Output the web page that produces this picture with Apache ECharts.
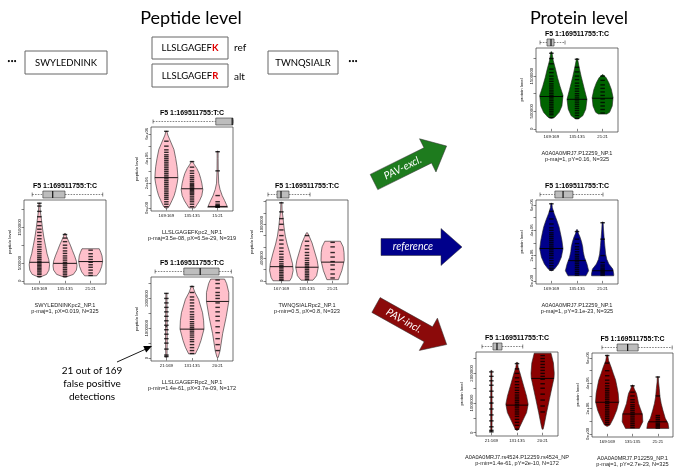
<!DOCTYPE html>
<html>
<head>
<meta charset="utf-8">
<script src="https://cdn.jsdelivr.net/npm/echarts@6/dist/echarts.min.js"></script>
<style>
html, body { margin: 0; padding: 0; background: #fff; }
#chart { width: 674px; height: 469px; }
</style>
</head>
<body>
<div id="chart"></div>
<script>
const M = 1e6; // violin values are in millions

const variantTitle = 'F5 1:169511755:T:C';

// A: SWYLEDNINK peptide
const aCats = ['169:169', '135:135', '21:21'];
const aMedian = [0.52, 0.49, 0.54];
const aShapeY = [
  [0.10, 0.18, 0.3, 0.45, 0.6, 0.76, 1.0, 1.23, 1.45, 1.7, 1.95, 2.18],
  [0.1, 0.18, 0.3, 0.42, 0.55, 0.7, 0.85, 1.0, 1.15, 1.25, 1.33],
  [0.14, 0.25, 0.4, 0.55, 0.7, 0.8, 0.9]
];
const aShapeW = [
  [0.0, 0.6, 0.8, 0.85, 0.78, 0.64, 0.5, 0.37, 0.27, 0.18, 0.08, 0.0],
  [0, 0.7, 0.95, 1.0, 0.95, 0.8, 0.62, 0.45, 0.25, 0.12, 0],
  [0.5, 0.75, 0.92, 1.0, 0.95, 0.85, 0.72]
];
const aPoints = [
  [0.12, 0.18, 0.22, 0.27, 0.31, 0.35, 0.39, 0.43, 0.47, 0.51, 0.55, 0.6, 0.65, 0.7, 0.76, 0.82, 0.88, 0.95, 1.02, 1.1, 1.18, 1.27, 1.36, 1.45, 1.55, 1.66, 1.8, 1.95, 2.1, 2.18],
  [0.12, 0.17, 0.22, 0.27, 0.32, 0.37, 0.42, 0.47, 0.52, 0.58, 0.64, 0.7, 0.77, 0.84, 0.92, 1.0, 1.1, 1.2, 1.3],
  [0.15, 0.22, 0.3, 0.38, 0.45, 0.52, 0.6, 0.68, 0.76, 0.86]
];
const aTicks = [0, 0.5, 1, 1.5, 2];
const aLabelAt = [0, 0.5, 1.5];
const aLabels = ['0', '500000', '1500000'];
const aStrip = [10, 23, 35, 50, 96];
const aSub = ['SWYLEDNINKpc2_NP.1', 'p-maj=1, pX=0.019, N=325'];

// B: LLSLGAGEFK peptide
const bCats = ['169:169', '135:135', '15:21'];
const bMedian = [2.45, 1.55, 0.12];
const bShapeY = [
  [0.0, 0.1, 0.58, 1.0, 1.41, 2.0, 2.4, 2.9, 3.34, 4.0, 4.73, 5.42, 5.9, 6.2],
  [0.0, 0.3, 0.58, 1.0, 1.47, 2.0, 2.4, 2.79, 3.2, 3.5, 3.76],
  [0.05, 0.3, 0.6, 1.0, 1.5, 2.0, 3.0, 4.0, 4.6]
];
const bShapeW = [
  [0.1, 0.22, 0.46, 0.65, 0.77, 0.9, 0.96, 0.93, 0.89, 0.78, 0.63, 0.33, 0.12, 0.0],
  [0.25, 0.45, 0.63, 0.82, 0.9, 0.82, 0.72, 0.6, 0.4, 0.2, 0],
  [0.83, 0.72, 0.58, 0.38, 0.2, 0.09, 0.05, 0.04, 0.0]
];
const bPoints = [
  [0.1, 0.3, 0.5, 0.7, 0.85, 1.0, 1.15, 1.3, 1.45, 1.6, 1.75, 1.9, 2.05, 2.2, 2.35, 2.5, 2.65, 2.8, 2.95, 3.1, 3.25, 3.4, 3.55, 3.7, 3.85, 4.0, 4.15, 4.3, 4.5, 4.7, 5.0, 5.4, 6.2],
  [0.1, 0.3, 0.5, 0.65, 0.8, 0.95, 1.1, 1.2, 1.3, 1.4, 1.5, 1.6, 1.7, 1.8, 1.9, 2.0, 2.15, 2.3, 2.45, 2.6, 2.8, 3.0, 3.3, 3.75],
  [0.05, 0.1, 0.15, 0.2, 0.3, 0.5, 1.0, 3.0, 4.55]
];
const bTicks = [0, 1, 2, 3, 4, 5, 6];
const bLabelAt = [0, 2, 4, 6];
const bLabels = ['0e+00', '2e+06', '4e+06', '6e+06'];
const bStrip = [2.5, 79, 99, 100, 100];
const bSub = ['LLSLGAGEFKpc2_NP.1', 'p-maj=3.5e-08, pX=6.5e-29, N=319'];

// C: LLSLGAGEFR peptide
const cCats = ['21:169', '131:135', '20:21'];
const cMedian = [1.05, 0.97, 1.9];
const cShapeY = [
  [0.02, 0.5, 1.0, 1.5, 2.17],
  [0.14, 0.36, 0.59, 0.97, 1.25, 1.52, 1.97, 2.2, 2.42],
  [0.02, 0.24, 0.82, 1.39, 1.9, 2.2, 2.5, 2.65]
];
const cShapeW = [
  [0.05, 0.07, 0.07, 0.06, 0.04],
  [0.28, 0.55, 0.75, 1.0, 0.97, 0.88, 0.55, 0.25, 0.0],
  [0.05, 0.2, 0.42, 0.72, 0.93, 0.93, 0.75, 0.58]
];
const cPoints = [
  [0.05, 0.1, 0.3, 0.5, 0.65, 0.8, 0.95, 1.1, 1.25, 1.4, 1.55, 1.7, 1.85, 2.0, 2.17],
  [0.15, 0.25, 0.35, 0.45, 0.55, 0.62, 0.7, 0.77, 0.84, 0.9, 0.96, 1.02, 1.08, 1.15, 1.22, 1.3, 1.38, 1.46, 1.55, 1.65, 1.75, 1.85, 1.95, 2.05, 2.2, 2.4],
  [0.25, 0.45, 0.65, 0.85, 1.05, 1.25, 1.4, 1.55, 1.7, 1.85, 2.0, 2.1, 2.2, 2.35, 2.5, 2.62]
];
const cTicks = [0, 0.5, 1, 1.5, 2, 2.5];
const cLabelAt = [0, 1, 2];
const cLabels = ['0', '1000000', '2000000'];
const cStrip = [5, 40, 60, 83, 98];
const cSub = ['LLSLGAGEFRpc2_NP.1', 'p-min=1.4e-61, pX=3.7e-09, N=172'];

// D: TWNQSIALR peptide
const dCats = ['167:169', '135:135', '21:21'];
const dMedian = [0.25, 0.24, 0.33];
const dShapeY = [
  [0.0, 0.06, 0.18, 0.3, 0.49, 0.65, 0.79, 0.95, 1.09, 1.25, 1.39],
  [0.01, 0.09, 0.24, 0.36, 0.49, 0.67, 0.78, 0.85],
  [0.02, 0.18, 0.36, 0.5, 0.6, 0.7]
];
const dShapeW = [
  [0.7, 0.86, 0.98, 0.93, 0.7, 0.48, 0.33, 0.22, 0.15, 0.06, 0.0],
  [0.5, 0.8, 0.94, 0.85, 0.67, 0.42, 0.2, 0.0],
  [0.48, 0.77, 0.97, 0.95, 0.88, 0.65]
];
const dPoints = [
  [0.01, 0.03, 0.06, 0.09, 0.12, 0.15, 0.18, 0.21, 0.24, 0.27, 0.3, 0.34, 0.38, 0.42, 0.47, 0.52, 0.58, 0.65, 0.72, 0.8, 0.9, 1.0, 1.1, 1.22, 1.38],
  [0.02, 0.05, 0.08, 0.11, 0.14, 0.17, 0.2, 0.23, 0.26, 0.29, 0.32, 0.36, 0.4, 0.45, 0.5, 0.56, 0.62, 0.7, 0.8],
  [0.05, 0.12, 0.2, 0.28, 0.34, 0.42, 0.5, 0.6, 0.68]
];
const dTicks = [0, 0.2, 0.4, 0.6, 0.8, 1.0, 1.2, 1.4];
const dLabelAt = [0, 0.4, 1.0];
const dLabels = ['0', '400000', '1000000'];
const dStrip = [2.4, 13.4, 18.3, 28, 53.7];
const dSub = ['TWNQSIALRpc2_NP.1', 'p-min=0.5, pX=0.8, N=323'];

// E: protein, PAV-excl.
const eCats = ['169:169', '135:135', '21:21'];
const eMedian = [0.92, 0.84, 0.87];
const eShapeY = [
  [0.3, 0.33, 0.47, 0.65, 0.95, 1.21, 1.45, 1.68, 1.95, 2.19],
  [0.28, 0.37, 0.56, 0.84, 1.12, 1.49, 1.75, 2.0],
  [0.42, 0.47, 0.65, 0.89, 1.12, 1.31, 1.45, 1.54]
];
const eShapeW = [
  [0.0, 0.28, 0.65, 0.88, 0.97, 0.72, 0.52, 0.36, 0.15, 0.0],
  [0.1, 0.48, 0.73, 0.83, 0.62, 0.35, 0.18, 0.0],
  [0.35, 0.58, 0.8, 0.87, 0.73, 0.52, 0.3, 0.0]
];
const ePoints = [
  [0.32, 0.4, 0.45, 0.5, 0.55, 0.6, 0.65, 0.7, 0.75, 0.8, 0.85, 0.9, 0.95, 1.0, 1.05, 1.1, 1.16, 1.22, 1.28, 1.35, 1.42, 1.5, 1.6, 1.7, 1.85, 2.0, 2.15],
  [0.3, 0.38, 0.45, 0.52, 0.58, 0.64, 0.7, 0.76, 0.82, 0.88, 0.94, 1.0, 1.07, 1.14, 1.22, 1.3, 1.4, 1.5, 1.62, 1.75, 1.98],
  [0.45, 0.55, 0.65, 0.75, 0.85, 0.95, 1.05, 1.15, 1.25, 1.38, 1.5]
];
const eTicks = [0, 0.5, 1, 1.5, 2];
const eLabelAt = [0, 0.5, 1.5];
const eLabels = ['0', '500000', '1500000'];
const eStrip = [4.9, 13.4, 18.3, 22, 35.4];
const eSub = ['A0A0A0MRJ7.P12259_NP.1', 'p-maj=1, pY=0.16, N=325'];

// F: protein, reference
const fCats = ['169:169', '135:135', '21:21'];
const fMedian = [2.56, 1.6, 0.8];
const fShapeY = [
  [0.8, 0.95, 1.33, 1.87, 2.54, 3.2, 3.8, 4.27, 4.8, 5.34, 5.8, 6.14],
  [0.4, 0.8, 1.33, 1.87, 2.3, 2.67, 3.1, 3.47, 3.8, 4.05],
  [0.4, 0.53, 0.93, 1.33, 1.7, 2.13, 2.8, 3.47, 4.1, 4.66]
];
const fShapeW = [
  [0.0, 0.28, 0.58, 0.83, 0.97, 0.88, 0.75, 0.64, 0.45, 0.23, 0.08, 0.0],
  [0.75, 0.97, 0.83, 0.62, 0.52, 0.48, 0.38, 0.25, 0.1, 0.0],
  [0.92, 0.93, 0.85, 0.52, 0.35, 0.25, 0.18, 0.12, 0.07, 0.0]
];
const fPoints = [
  [0.85, 1.0, 1.2, 1.4, 1.6, 1.8, 2.0, 2.15, 2.3, 2.45, 2.6, 2.75, 2.9, 3.05, 3.2, 3.35, 3.5, 3.65, 3.8, 4.0, 4.2, 4.5, 4.9, 5.5, 6.1],
  [0.45, 0.6, 0.75, 0.9, 1.05, 1.2, 1.35, 1.5, 1.65, 1.8, 1.95, 2.1, 2.3, 2.5, 2.7, 2.95, 3.3, 3.9],
  [0.45, 0.55, 0.65, 0.75, 0.85, 0.95, 1.1, 1.25, 1.45, 2.0, 3.3, 4.6]
];
const fTicks = [0, 1, 2, 3, 4, 5, 6];
const fLabelAt = [0, 2, 4, 6];
const fLabels = ['0e+00', '2e+06', '4e+06', '6e+06'];
const fStrip = [4.9, 23, 33, 45, 81.7];
const fSub = ['A0A0A0MRJ7.P12259_NP.1', 'p-maj=1, pY=3.1e-23, N=325'];

// G: protein, PAV-incl. (variant peptide)
const gCats = ['21:169', '131:135', '20:21'];
const gMedian = [1.0, 0.93, 1.83];
const gShapeY = [
  [0.03, 0.5, 1.0, 1.5, 2.1],
  [0.08, 0.12, 0.4, 0.68, 0.96, 1.23, 1.57, 2.01, 2.2, 2.37],
  [0.12, 0.23, 0.68, 1.12, 1.57, 1.85, 2.0, 2.35, 2.68]
];
const gShapeW = [
  [0.05, 0.06, 0.06, 0.05, 0.04],
  [0.0, 0.14, 0.47, 0.8, 0.93, 0.8, 0.56, 0.25, 0.1, 0.0],
  [0.0, 0.11, 0.33, 0.56, 0.8, 0.95, 0.97, 0.9, 0.7]
];
const gPoints = [
  [0.03, 0.08, 0.2, 0.4, 0.6, 0.8, 1.0, 1.2, 1.4, 1.6, 1.75, 1.9, 2.05],
  [0.12, 0.25, 0.35, 0.45, 0.55, 0.63, 0.7, 0.77, 0.84, 0.9, 0.96, 1.02, 1.08, 1.14, 1.2, 1.27, 1.35, 1.43, 1.52, 1.62, 1.72, 1.85, 2.0, 2.15, 2.33],
  [0.7, 0.9, 1.1, 1.3, 1.5, 1.65, 1.8, 1.9, 2.0, 2.1, 2.2, 2.3, 2.4, 2.5, 2.6]
];
const gTicks = [0, 0.5, 1, 1.5, 2, 2.5];
const gLabelAt = [0, 1, 2];
const gLabels = ['0', '1000000', '2000000'];
const gStrip = [7.3, 20.7, 25.6, 31.7, 57];
const gSub = ['A0A0A0MRJ7.rs4524.P12259.rs4524_NP', 'p-min=1.4e-61, pY=2e-10, N=172'];

// H: protein, PAV-incl. (reference peptide)
const hCats = ['169:169', '135:135', '21:21'];
const hMedian = [2.5, 1.57, 0.95];
const hShapeY = [
  [0.6, 0.7, 1.23, 1.88, 2.54, 3.2, 3.8, 4.26, 4.8, 5.31, 5.8, 6.24],
  [0.43, 0.96, 1.54, 2.0, 2.41, 2.8, 3.2, 3.55, 3.86],
  [0.43, 0.83, 1.23, 1.88, 2.4, 2.94, 3.6, 4.1, 4.52]
];
const hShapeW = [
  [0.0, 0.23, 0.52, 0.8, 0.97, 0.92, 0.8, 0.7, 0.5, 0.32, 0.12, 0.0],
  [0.58, 0.86, 0.83, 0.65, 0.5, 0.42, 0.33, 0.15, 0.0],
  [0.92, 0.85, 0.62, 0.42, 0.28, 0.18, 0.12, 0.06, 0.0]
];
const hPoints = [
  [0.75, 0.9, 1.05, 1.2, 1.35, 1.5, 1.65, 1.8, 1.95, 2.1, 2.25, 2.4, 2.55, 2.7, 2.85, 3.0, 3.15, 3.3, 3.45, 3.6, 3.8, 4.0, 4.25, 4.6, 5.0, 5.6, 6.2],
  [0.5, 0.65, 0.8, 0.95, 1.1, 1.25, 1.4, 1.55, 1.7, 1.85, 2.0, 2.15, 2.3, 2.5, 2.7, 3.0, 3.3, 3.8],
  [0.45, 0.55, 0.65, 0.75, 0.85, 1.0, 1.15, 1.3, 1.45, 3.0, 4.5]
];
const hTicks = [0, 1, 2, 3, 4, 5, 6];
const hLabelAt = [0, 2, 4, 6];
const hLabels = ['0e+00', '2e+06', '4e+06', '6e+06'];
const hStrip = [12.3, 31, 44, 57, 99];
const hSub = ['A0A0A0MRJ7.P12259_NP.1', 'p-maj=1, pY=2.7e-23, N=325'];

// layout and look of each small panel
const panels = [
  { cats: aCats, med: aMedian, sy: aShapeY, sw: aShapeW, pts: aPoints, ticks: aTicks, labAt: aLabelAt, lab: aLabels, strip: aStrip, sub: aSub,
    left: 24, top: 200, w: 82, yMin: -0.09, yMax: 2.27, fill: '#ffc0cb', yName: 'peptide level' },
  { cats: bCats, med: bMedian, sy: bShapeY, sw: bShapeW, pts: bPoints, ticks: bTicks, labAt: bLabelAt, lab: bLabels, strip: bStrip, sub: bSub,
    left: 151, top: 127, w: 82, yMin: -0.25, yMax: 6.55, fill: '#ffc0cb', yName: 'peptide level' },
  { cats: cCats, med: cMedian, sy: cShapeY, sw: cShapeW, pts: cPoints, ticks: cTicks, labAt: cLabelAt, lab: cLabels, strip: cStrip, sub: cSub,
    left: 151, top: 277, w: 82, yMin: -0.1, yMax: 2.72, fill: '#ffc0cb', yName: 'peptide level' },
  { cats: dCats, med: dMedian, sy: dShapeY, sw: dShapeW, pts: dPoints, ticks: dTicks, labAt: dLabelAt, lab: dLabels, strip: dStrip, sub: dSub,
    left: 266, top: 200, w: 82, yMin: -0.057, yMax: 1.43, fill: '#ffc0cb', yName: 'peptide level' },
  { cats: eCats, med: eMedian, sy: eShapeY, sw: eShapeW, pts: ePoints, ticks: eTicks, labAt: eLabelAt, lab: eLabels, strip: eStrip, sub: eSub,
    left: 536, top: 48, w: 82, yMin: -0.09, yMax: 2.3, fill: '#006400', yName: 'protein level' },
  { cats: fCats, med: fMedian, sy: fShapeY, sw: fShapeW, pts: fPoints, ticks: fTicks, labAt: fLabelAt, lab: fLabels, strip: fStrip, sub: fSub,
    left: 536, top: 200, w: 82, yMin: -0.25, yMax: 6.4, fill: '#00008b', yName: 'protein level' },
  { cats: gCats, med: gMedian, sy: gShapeY, sw: gShapeW, pts: gPoints, ticks: gTicks, labAt: gLabelAt, lab: gLabels, strip: gStrip, sub: gSub,
    left: 476, top: 352, w: 82, yMin: -0.11, yMax: 2.72, fill: '#8b0000', yName: 'protein level' },
  { cats: hCats, med: hMedian, sy: hShapeY, sw: hShapeW, pts: hPoints, ticks: hTicks, labAt: hLabelAt, lab: hLabels, strip: hStrip, sub: hSub,
    left: 592, top: 353, w: 81, yMin: -0.25, yMax: 6.4, fill: '#8b0000', yName: 'protein level' }
];

const HALF = 12;      // px for a relative width of 1
const PH = 84;        // panel height
const RFONT = 'Liberation Sans';
const BFONT = 'Lato';

function widthAt(ys, ws, y) {
  for (let j = 0; j < ys.length - 1; j++) {
    if (y >= ys[j] && y <= ys[j + 1]) {
      const t = (y - ys[j]) / (ys[j + 1] - ys[j]);
      return ws[j] + t * (ws[j + 1] - ws[j]);
    }
  }
  return 0;
}

const grids = [], xAxes = [], yAxes = [], series = [], graphics = [];

panels.forEach((p, i) => {
  const g = i * 2;
  grids.push({ left: p.left, top: p.top, width: p.w, height: PH, show: true,
    borderColor: '#333', borderWidth: 0.7, backgroundColor: 'rgba(0,0,0,0)' });
  grids.push({ left: p.left, top: p.top - 9, width: p.w, height: 7 });

  xAxes.push({
    gridIndex: g, type: 'value', min: 0.4, max: 3.6,
    splitLine: { show: false }, axisLine: { show: false },
    axisTick: { customValues: [1, 2, 3], length: 2.5, lineStyle: { color: '#333', width: 0.6 } },
    axisLabel: { customValues: [1, 2, 3], formatter: v => p.cats[Math.round(v) - 1],
      fontSize: 4.3, margin: 2.5, color: '#111', fontFamily: RFONT }
  });
  xAxes.push({ gridIndex: g + 1, type: 'value', min: 0, max: 100, show: false });

  yAxes.push({
    gridIndex: g, type: 'value', min: p.yMin * M, max: p.yMax * M,
    splitLine: { show: false }, axisLine: { show: false },
    name: p.yName, nameLocation: 'middle', nameGap: 12,
    nameTextStyle: { fontSize: 4.3, color: '#111', fontFamily: RFONT },
    axisTick: { customValues: p.ticks.map(v => v * M), length: 2.5, lineStyle: { color: '#333', width: 0.6 } },
    axisLabel: {
      customValues: p.labAt.map(v => v * M), rotate: 90, margin: 2.5,
      fontSize: 4.3, color: '#111', fontFamily: RFONT,
      formatter: v => {
        const k = p.labAt.findIndex(t => Math.abs(t * M - v) < 1);
        return k < 0 ? '' : p.lab[k];
      }
    }
  });
  yAxes.push({ gridIndex: g + 1, type: 'value', min: 0, max: 1, show: false });

  // violins with median line
  series.push({
    type: 'custom', xAxisIndex: g, yAxisIndex: g, silent: true,
    data: p.cats.map((c, k) => [k + 1, p.med[k] * M]),
    renderItem: (params, api) => {
      const k = params.dataIndex;
      const ys = p.sy[k], ws = p.sw[k];
      const lft = [], rgt = [];
      ys.forEach((y, j) => {
        const c = api.coord([k + 1, y * M]);
        const w = Math.max(ws[j] * HALF, 0.5);
        lft.push([c[0] - w, c[1]]);
        rgt.push([c[0] + w, c[1]]);
      });
      const mc = api.coord([k + 1, p.med[k] * M]);
      const mw = Math.max(widthAt(ys, ws, p.med[k]) * HALF, 0.8);
      return {
        type: 'group', children: [
          { type: 'polygon', shape: { points: lft.concat(rgt.reverse()) },
            style: { fill: p.fill, stroke: '#222', lineWidth: 0.6 } },
          { type: 'line', shape: { x1: mc[0] - mw, y1: mc[1], x2: mc[0] + mw, y2: mc[1] },
            style: { stroke: '#000', lineWidth: 0.9 } }
        ]
      };
    }
  });

  // individual values as short dashes
  const dots = [];
  p.pts.forEach((arr, k) => arr.forEach(v => dots.push([k + 1, v * M])));
  series.push({
    type: 'scatter', xAxisIndex: g, yAxisIndex: g, silent: true,
    symbol: 'rect', symbolSize: [4.5, 1.4], data: dots,
    itemStyle: { color: '#000' }
  });

  // horizontal boxplot strip above the panel
  series.push({
    type: 'custom', xAxisIndex: g + 1, yAxisIndex: g + 1, silent: true,
    data: [p.strip],
    renderItem: (params, api) => {
      const s = p.strip;
      const y = api.coord([0, 0.5])[1];
      const x = s.map(v => api.coord([v, 0.5])[0]);
      const ln = { stroke: '#333', lineWidth: 0.6 };
      return {
        type: 'group', children: [
          { type: 'line', shape: { x1: x[0], y1: y, x2: x[1], y2: y }, style: { ...ln, lineDash: [1.6, 1.2] } },
          { type: 'line', shape: { x1: x[3], y1: y, x2: x[4], y2: y }, style: { ...ln, lineDash: [1.6, 1.2] } },
          { type: 'line', shape: { x1: x[0], y1: y - 2, x2: x[0], y2: y + 2 }, style: ln },
          { type: 'line', shape: { x1: x[4], y1: y - 2, x2: x[4], y2: y + 2 }, style: ln },
          { type: 'rect', shape: { x: x[1], y: y - 3.5, width: Math.max(x[3] - x[1], 1), height: 7 },
            style: { fill: '#bdbdbd', stroke: '#333', lineWidth: 0.6 } },
          { type: 'line', shape: { x1: x[2], y1: y - 3.5, x2: x[2], y2: y + 3.5 }, style: { stroke: '#111', lineWidth: 1.2 } }
        ]
      };
    }
  });

  const cx = p.left + p.w / 2;
  graphics.push(
    { type: 'text', x: cx, y: p.top - 13.5, silent: true,
      style: { text: variantTitle, fontSize: 7, fontWeight: 'bold', fontFamily: RFONT, fill: '#000',
        textAlign: 'center', textVerticalAlign: 'middle' } },
    { type: 'text', x: cx, y: p.top + PH + 21.5, silent: true,
      style: { text: p.sub[0], fontSize: 5.6, fontFamily: RFONT, fill: '#222',
        textAlign: 'center', textVerticalAlign: 'middle' } },
    { type: 'text', x: cx, y: p.top + PH + 27.5, silent: true,
      style: { text: p.sub[1], fontSize: 5.6, fontFamily: RFONT, fill: '#222',
        textAlign: 'center', textVerticalAlign: 'middle' } }
  );
});

function label(x, y, text, size, extra) {
  return { type: 'text', x, y, silent: true,
    style: Object.assign({ text, fontSize: size, fontFamily: BFONT, fill: '#000',
      textAlign: 'center', textVerticalAlign: 'middle' }, extra || {}) };
}
function box(x, y, w, h) {
  return { type: 'rect', silent: true, shape: { x, y, width: w, height: h },
    style: { fill: '#fff', stroke: '#666', lineWidth: 1 } };
}
function peptide(x, y, stem, last) {
  return { type: 'text', x, y, silent: true,
    style: { text: '{a|' + stem + '}{b|' + last + '}', textAlign: 'center', textVerticalAlign: 'middle',
      rich: {
        a: { fontSize: 9.5, fontFamily: BFONT, fill: '#000', color: '#000' },
        b: { fontSize: 9.5, fontFamily: BFONT, fontWeight: 'bold', fill: '#e00000', color: '#e00000' }
      } } };
}
function bigArrow(x, y, rot, color, text) {
  const L = 81, hl = 21, bt = 8.5, hw = 18.5;
  return { type: 'group', x, y, rotation: rot, silent: true, children: [
    { type: 'polygon', shape: { points: [[0, -bt], [L - hl, -bt], [L - hl, -hw], [L, 0], [L - hl, hw], [L - hl, bt], [0, bt]] },
      style: { fill: color, stroke: '#333', lineWidth: 0.5 } },
    { type: 'text', x: (L - hl) / 2 + 2, y: 0,
      style: { text, fontSize: 10.5, fontStyle: 'italic', fontFamily: BFONT, fill: '#fff',
        textAlign: 'center', textVerticalAlign: 'middle' } }
  ] };
}

graphics.push(
  label(191, 18, 'Peptide level', 18),
  label(579, 18, 'Protein level', 18),
  label(12, 61, '•••', 5.5),
  box(25, 51, 82, 23), label(66, 62.5, 'SWYLEDNINK', 9.5),
  box(152, 37, 76, 22), peptide(190, 48, 'LLSLGAGEF', 'K'),
  box(152, 64, 76, 23), peptide(190, 75.5, 'LLSLGAGEF', 'R'),
  label(234, 48, 'ref', 10, { textAlign: 'left' }),
  label(234, 77, 'alt', 10, { textAlign: 'left' }),
  box(268, 51, 70, 23), label(303, 62.5, 'TWNQSIALR', 9.5),
  label(353, 61, '•••', 5.5),
  bigArrow(374, 182, 0.46, '#1e7b1e', 'PAV-excl.'),
  bigArrow(381, 247, 0, '#00008b', 'reference'),
  bigArrow(376, 305, -0.51, '#8b0a0a', 'PAV-incl.'),
  label(92, 371, '21 out of 169', 10),
  label(92, 384, 'false positive', 10),
  label(92, 397, 'detections', 10),
  { type: 'line', silent: true, shape: { x1: 117, y1: 362, x2: 146, y2: 349 }, style: { stroke: '#000', lineWidth: 0.9 } },
  { type: 'polygon', silent: true, shape: { points: [[152, 346], [146.2, 352.5], [143.2, 346.1]] }, style: { fill: '#000' } }
);

const chart = echarts.init(document.getElementById('chart'));
chart.setOption({
  animation: false,
  backgroundColor: '#fff',
  grid: grids,
  xAxis: xAxes,
  yAxis: yAxes,
  series: series,
  graphic: graphics
});
</script>
</body>
</html>
